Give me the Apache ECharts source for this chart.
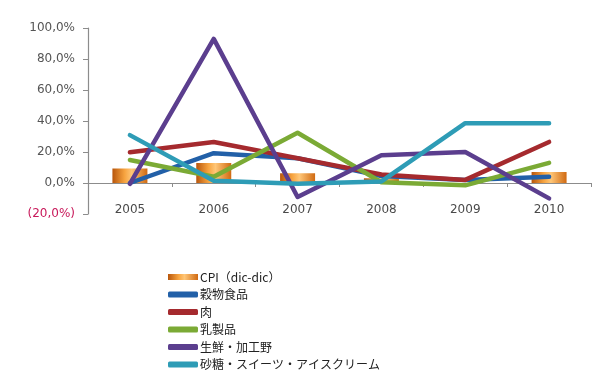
<!DOCTYPE html>
<html>
<head>
<meta charset="utf-8">
<script src="https://cdn.jsdelivr.net/npm/echarts@6/dist/echarts.min.js"></script>
<style>
  html, body { margin: 0; padding: 0; background: #ffffff; }
  #chart { width: 595px; height: 389px; }
</style>
</head>
<body>
<div id="chart"></div>
<script>
// Years on the category axis
const years = ['2005', '2006', '2007', '2008', '2009', '2010'];

// Annual change (%), December to December
const cpi      = [9.3, 12.9, 6.3, 3.0, 0, 7.1];
const cereals  = [0, 19.2, 16.0, 4.5, 2.0, 4.0];
const meat     = [19.9, 26.5, 16.0, 5.5, 2.0, 26.5];
const dairy    = [14.8, 4.0, 32.4, 0.5, -1.5, 13.0];
const produce  = [-0.5, 93.0, -9.0, 17.9, 20.0, -9.9];
const sweets   = [30.9, 1.5, -0.5, 1.0, 38.6, 38.6];

// Y axis range
const yMin = -20, yMax = 100, yStep = 20;

const names = ['CPI（dic-dic）', '穀物食品', '肉', '乳製品', '生鮮・加工野', '砂糖・スイーツ・アイスクリーム'];
const colors = ['#EE8A1C', '#2260A8', '#A52A2E', '#7BAA35', '#5B3E8E', '#2E9CB6'];

const chart = echarts.init(document.getElementById('chart'));

function lineSeries(name, data, color) {
  return {
    name: name,
    type: 'line',
    data: data,
    symbol: 'none',
    lineStyle: { width: 4.5, color: color, cap: 'round', join: 'round' },
    itemStyle: { color: color },
    z: 3
  };
}

chart.setOption({
  animation: false,
  textStyle: { fontFamily: 'DejaVu Sans' },
  grid: { left: 88, right: 4, top: 28, bottom: 175 },
  xAxis: {
    type: 'category',
    data: years,
    boundaryGap: true,
    axisLine: { onZero: true, lineStyle: { color: '#8c8c8c', width: 1.2 } },
    axisTick: { show: true, inside: false, length: 4, lineStyle: { color: '#8c8c8c' } },
    axisLabel: { margin: -10, fontSize: 12, color: '#4a4a4a' },
    splitLine: { show: false }
  },
  yAxis: {
    type: 'value',
    min: yMin, max: yMax, interval: yStep,
    axisLine: { show: true, lineStyle: { color: '#8c8c8c', width: 1.2 } },
    axisTick: { show: true, inside: false, length: 5, lineStyle: { color: '#8c8c8c' } },
    axisLabel: {
      margin: 13,
      fontSize: 12,
      color: function (v) { return Number(v) < 0 ? '#C8195A' : '#555555'; },
      formatter: function (v) {
        return v < 0 ? '(' + Math.abs(v) + ',0%)' : v + ',0%';
      }
    },
    splitLine: { show: false }
  },
  legend: {
    orient: 'vertical',
    left: 163,
    top: 266,
    itemGap: 5.5,
    itemWidth: 30,
    itemHeight: 6,
    textStyle: { fontFamily: 'Noto Sans CJK JP', fontSize: 12, color: '#222222', padding: [0, 0, 0, -3] },
    data: names.map(function (n, i) {
      return { name: n, icon: i === 0 ? 'rect' : 'roundRect' };
    })
  },
  series: [
    {
      name: names[0],
      type: 'bar',
      data: cpi,
      barWidth: 35,
      z: 1,
      itemStyle: {
        color: new echarts.graphic.LinearGradient(0, 0, 1, 0, [
          { offset: 0, color: '#B8560C' },
          { offset: 0.35, color: '#F7A440' },
          { offset: 0.55, color: '#FFC677' },
          { offset: 1, color: '#D06A12' }
        ])
      }
    },
    lineSeries(names[1], cereals, colors[1]),
    lineSeries(names[2], meat, colors[2]),
    lineSeries(names[3], dairy, colors[3]),
    lineSeries(names[4], produce, colors[4]),
    lineSeries(names[5], sweets, colors[5])
  ]
});
</script>
</body>
</html>
